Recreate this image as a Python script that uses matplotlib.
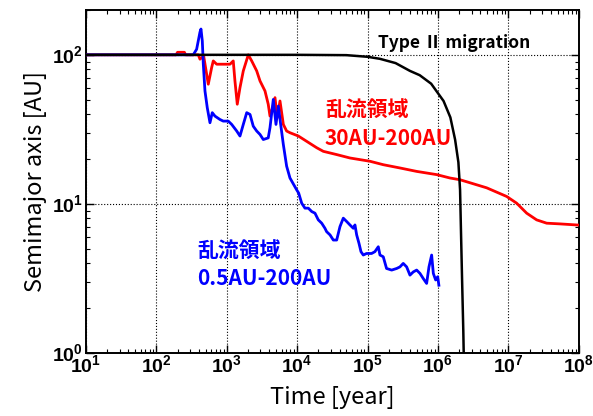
import numpy as np
import matplotlib
matplotlib.use("Agg")
import matplotlib.pyplot as plt
from matplotlib.ticker import LogLocator, FixedLocator, FixedFormatter, NullFormatter

# ---- data (time [yr], semimajor axis [AU]) ----
t_blue = [10, 334, 373, 416, 430, 449, 464, 490, 528, 577, 622, 679, 800, 891,
          1050, 1175, 1384, 1540, 1716, 1920, 2138, 2377, 2660, 2965, 3300,
          3880, 4110, 4580, 5000, 5400, 5830, 6360, 7080, 7900, 9840, 10500,
          11590, 12900, 14400, 16100, 17900, 19950, 22300, 24800, 26200, 29300,
          32600, 36400, 40550, 45200, 50500, 56200, 62700, 66200, 70000, 75500,
          80600, 86900, 96800, 102000, 114000, 127000, 142000, 150000, 167000,
          186000, 220000, 259000, 288000, 321000, 359000, 400000, 446000,
          498000, 555000, 618000, 690000, 745000, 813000, 859000, 927000,
          991000, 1030000]
a_blue = [100, 100, 109, 142, 149, 124, 86.5, 57.2, 44.2, 35, 40.9, 38.8, 36.8, 35.9,
          35.9, 34.1, 30.8, 28.5, 34.1, 40.9, 39.8, 33.2, 30.8, 29.2, 27,
          27.7, 32.4, 50.2, 34.1, 45.3, 34.1, 25, 17.9, 14.9, 12.4, 11.8,
          10.1, 9.35, 9.35, 8.87, 8.65, 7.8, 7.41, 6.85, 6.5, 6.18,
          5.71, 5.71, 7.03, 8.01, 7.6, 7.21, 6.85, 7.21, 6.18, 5.43,
          4.77, 4.53, 4.64, 4.64, 4.64, 4.77, 5.15, 4.53, 4.41,
          3.68, 3.59, 3.68, 3.77, 3.98, 3.77, 3.32, 3.49,
          3.59, 3.41, 3.15, 2.92, 3.77, 4.53, 3.41, 3.08,
          3.24, 2.84]

t_red = [10, 190, 200, 250, 260, 394, 416, 470, 546, 610, 643, 718, 1110, 1236,
         1306, 1409, 1540, 1716, 2020, 2260, 2660, 2965, 3490, 3880, 4110,
         4490, 4840, 5210, 5700, 6360, 7080, 7900, 10400, 18900, 23500, 36400,
         56200, 108000, 167000, 288000, 498000, 958000, 1480000, 2060000,
         4920000, 9460000, 13100000, 18200000, 25200000, 35000000, 54100000,
         93300000, 100000000]
a_red = [100, 100, 104, 104, 100, 100, 93.5, 98, 63.5, 82.2, 91, 86.5, 86.5, 91,
         66.8, 46.6, 60.2, 78, 100, 91, 78, 66.8, 57.2, 46.6, 38.8,
         44.2, 51.6, 37.8, 49, 34.1, 30.8, 30, 28.5, 23.8, 22.5, 21.4,
         20.3, 19.3, 18.3, 17.4, 16.5, 15.7, 14.9, 14.5,
         12.8, 11.2, 10.1, 8.65, 7.8, 7.41, 7.33,
         7.21, 7.2]

t_type2 = [10, 10000, 50000, 100000, 150000, 250000, 400000, 550000, 800000,
           1200000, 1500000, 1750000, 1950000, 2060000, 2120000, 2200000,
           2290000, 2330000]
a_type2 = [100, 100, 99.5, 97, 94, 88, 78, 73, 64,
           49, 38, 27, 19, 12.4, 6.7, 3.1,
           1.4, 0.9]

x_ticks = [1e1, 1e2, 1e3, 1e4, 1e5, 1e6, 1e7, 1e8]
x_labels = [r"$\mathbf{10^{%d}}$" % k for k in range(1, 9)]
y_ticks = [1e0, 1e1, 1e2]
y_labels = [r"$\mathbf{10^{%d}}$" % k for k in range(0, 3)]

plt.rcParams['font.family'] = ['Noto Sans CJK JP', 'DejaVu Sans']
plt.rcParams['mathtext.fontset'] = 'custom'
plt.rcParams['mathtext.rm'] = 'Liberation Sans'
plt.rcParams['mathtext.bf'] = 'Liberation Sans:bold'

fig = plt.figure(figsize=(5.93, 4.16), dpi=100)
ax = fig.add_axes([0.145, 0.152, 0.831, 0.824])

ax.plot(t_red, a_red, color='#ff0000', lw=2.0, zorder=3)
ax.plot(t_blue, a_blue, color='#0000ff', lw=2.0, zorder=4)
ax.plot(t_type2, a_type2, color='black', lw=1.8, zorder=5)

ax.set_xscale('log')
ax.set_yscale('log')
ax.set_xlim(1e1, 1e8)
ax.set_ylim(1, 200)

ax.xaxis.set_major_locator(FixedLocator(x_ticks))
ax.xaxis.set_major_formatter(FixedFormatter(x_labels))
ax.yaxis.set_major_locator(FixedLocator(y_ticks))
ax.yaxis.set_major_formatter(FixedFormatter(y_labels))
ax.xaxis.set_minor_locator(LogLocator(base=10, subs=np.arange(2, 10), numticks=20))
ax.yaxis.set_minor_locator(LogLocator(base=10, subs=np.arange(2, 10), numticks=20))
ax.xaxis.set_minor_formatter(NullFormatter())
ax.yaxis.set_minor_formatter(NullFormatter())

ax.tick_params(which='both', direction='in', top=True, right=True, colors='black')
ax.tick_params(which='major', length=6, width=1.0, labelsize=14, pad=2)
ax.tick_params(which='minor', length=3, width=0.8)
ax.grid(True, which='major', ls=':', lw=0.8, color='black')
for s in ax.spines.values():
    s.set_linewidth(1.4)

ax.set_xlabel('Time [year]', fontsize=17, labelpad=6)
ax.set_ylabel('Semimajor axis [AU]', fontsize=17, labelpad=4)

ax.text(1.4e5, 120, 'Type Ⅱ migration', fontsize=12.5, fontweight='bold',
        ha='left', va='center', color='black')
ax.text(2.48e4, 42.4, '乱流領域', fontsize=15, fontweight='bold',
        ha='left', va='center', color='#ff0000')
ax.text(2.48e4, 27.4, '30AU-200AU', fontsize=15, fontweight='bold',
        ha='left', va='center', color='#ff0000')
ax.text(377, 4.82, '乱流領域', fontsize=15, fontweight='bold',
        ha='left', va='center', color='#0000ff')
ax.text(377, 3.17, '0.5AU-200AU', fontsize=15, fontweight='bold',
        ha='left', va='center', color='#0000ff')

fig.savefig('out.png', dpi=100)
